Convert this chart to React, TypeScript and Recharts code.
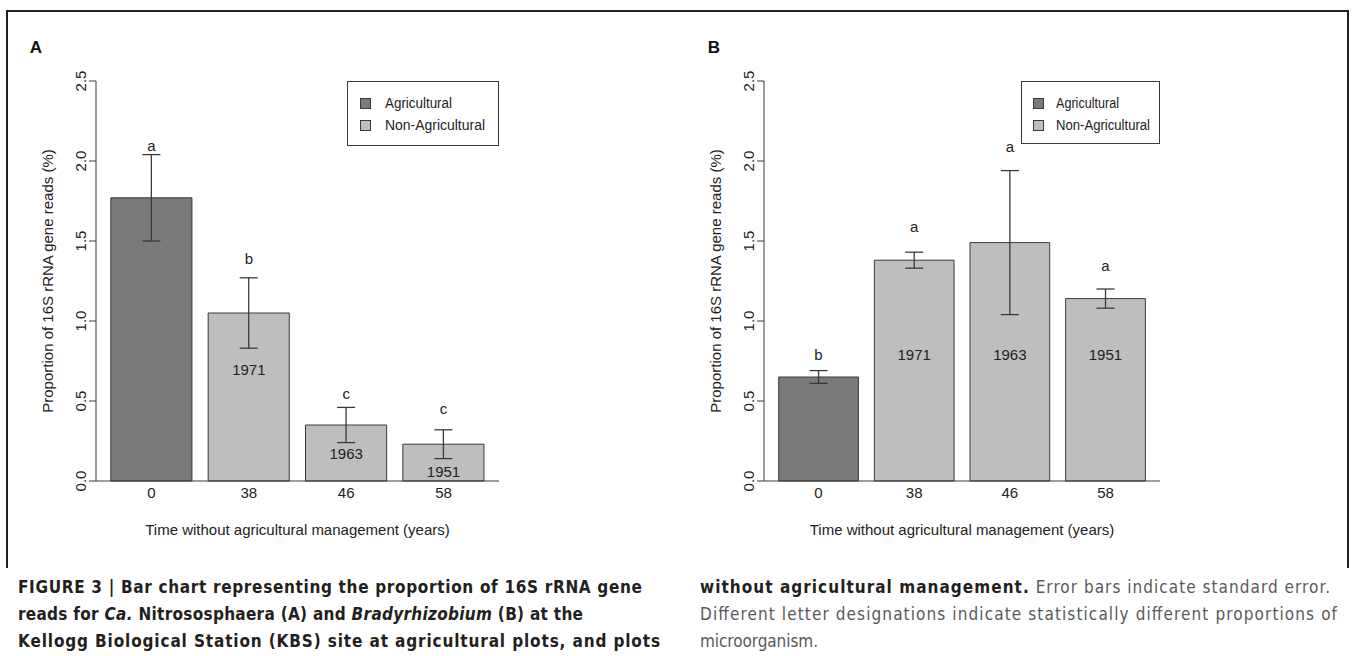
import React from 'react';
import { ComposedChart, Bar, Cell, ErrorBar, Scatter, XAxis, YAxis, Legend } from 'recharts';

// shared categories
const years = ['0', '38', '46', '58'];
const kinds = ['Agricultural', 'Non-Agricultural', 'Non-Agricultural', 'Non-Agricultural'];
const yTicks = [0, 0.5, 1, 1.5, 2, 2.5];
const legendItems = ['Agricultural', 'Non-Agricultural'];

// panel A: Ca. Nitrososphaera
const meanA = [1.77, 1.05, 0.35, 0.23];
const seA = [0.27, 0.22, 0.11, 0.09];
const lettersA = ['a', 'b', 'c', 'c'];
const letterYA = [2.1, 1.39, 0.55, 0.455];
const sinceA = ['', '1971', '1963', '1951'];
const sinceYA = [null, 0.7, 0.175, 0.062];

// panel B: Bradyrhizobium
const meanB = [0.65, 1.38, 1.49, 1.14];
const seB = [0.04, 0.05, 0.45, 0.06];
const lettersB = ['b', 'a', 'a', 'a'];
const letterYB = [0.79, 1.59, 2.09, 1.35];
const sinceB = ['', '1971', '1963', '1951'];
const sinceYB = [null, 0.79, 0.79, 0.79];

const fills: Record<string, string> = { Agricultural: '#7a7a7a', 'Non-Agricultural': '#bebebe' };
const ink = '#222';
const stroke = '#3a3a3a';
const font = "'Liberation Sans', Arial, Helvetica, sans-serif";
const narrow = "'Liberation Sans Narrow', 'DejaVu Sans Condensed', 'Liberation Sans', Arial, sans-serif";

const W = 520;
const H = 560;
const TOP = 81;
const BOTTOM = 481;
const YW = 50;
const XH = 60;

const YTick = (props: any) => {
  const { x, y, payload } = props;
  return (
    <text x={x} y={y} transform={`rotate(-90, ${x}, ${y})`} textAnchor="middle" fill={ink} fontSize={15} fontFamily={font}>
      {Number(payload.value).toFixed(1)}
    </text>
  );
};

const Letter = (props: any) => {
  const { cx, cy, payload } = props;
  if (!payload || !payload.letter || cy == null || isNaN(cy)) return null;
  return (
    <text x={cx} y={cy} textAnchor="middle" dominantBaseline="central" fill={ink} fontSize={15} fontFamily={font}>
      {payload.letter}
    </text>
  );
};

const Since = (props: any) => {
  const { cx, cy, payload } = props;
  if (!payload || !payload.since || cy == null || isNaN(cy)) return null;
  return (
    <text x={cx} y={cy} textAnchor="middle" dominantBaseline="central" fill={ink} fontSize={15} fontFamily={font}>
      {payload.since}
    </text>
  );
};

function LegendBox({ w, h, sq, tx, k }: { w: number; h: number; sq: number; tx: number; k: number }) {
  // text widths of the legend labels in the reference (condensed R output)
  const lens = [67 * k, 100 * k];
  return (
    <svg width={w} height={h} style={{ display: 'block' }}>
      <rect x={0.5} y={0.5} width={w - 1} height={h - 1} fill="#fff" stroke={stroke} />
      {legendItems.map((name, i) => (
        <g key={name}>
          <rect x={sq + 0.5} y={17.5 + i * 22} width={10} height={10} fill={fills[name]} stroke={stroke} />
          <text
            x={tx}
            y={22 + i * 22}
            dominantBaseline="central"
            fill={ink}
            fontSize={14}
            fontFamily={font}
            textLength={lens[i]}
            lengthAdjust="spacingAndGlyphs"
          >
            {name}
          </text>
        </g>
      ))}
    </svg>
  );
}

interface PanelProps {
  left: number;
  plotLeft: number;
  plotRight: number;
  means: number[];
  ses: number[];
  letters: string[];
  letterY: number[];
  since: string[];
  sinceY: (number | null)[];
  legendLeft: number;
  legendW: number;
  legendH: number;
  legendSq: number;
  legendTx: number;
  legendK: number;
}

function Panel(p: PanelProps) {
  const data = years.map((year, i) => ({
    year,
    kind: kinds[i],
    mean: p.means[i],
    se: p.ses[i],
    letter: p.letters[i],
    letterY: p.letterY[i],
    since: p.since[i],
    sinceY: p.sinceY[i],
  }));
  const pl = p.plotLeft - p.left;
  const pr = p.plotRight - p.left;
  const plotW = pr - pl;
  // R barplot geometry: space = 0.2, axis extended 4% each side
  const pitch = plotW / 4.14;
  const pad = (plotW - 4 * pitch) / 2;
  const barSize = pitch / 1.2;

  return (
    <div style={{ position: 'absolute', left: p.left, top: 0, width: W, height: H }}>
      <ComposedChart
        width={W}
        height={H}
        data={data}
        margin={{ top: TOP, right: W - pr, bottom: H - BOTTOM - XH, left: pl - YW }}
      >
        <XAxis
          dataKey="year"
          height={XH}
          interval={0}
          tickLine={false}
          tickSize={0}
          tickMargin={6}
          padding={{ left: pad, right: pad }}
          axisLine={{ stroke }}
          tick={{ fill: ink, fontSize: 15, fontFamily: font }}
          label={{
            content: (lp: any) => {
              const vb = lp.viewBox || {};
              return (
                <text x={vb.x + vb.width / 2} y={vb.y + 54} textAnchor="middle" fill={ink} fontSize={15} fontFamily={font}>
                  Time without agricultural management (years)
                </text>
              );
            },
          }}
        />
        <XAxis xAxisId="top" orientation="top" dataKey="year" height={0} tick={false} tickLine={false} axisLine={{ stroke }} />
        <YAxis
          domain={[0, 2.5]}
          ticks={yTicks}
          width={YW}
          tickSize={7}
          tickMargin={3}
          interval={0}
          axisLine={{ stroke }}
          tickLine={{ stroke }}
          tick={YTick}
          label={{
            content: (lp: any) => {
              const vb = lp.viewBox || {};
              const x = vb.x + 7;
              const y = vb.y + vb.height / 2;
              return (
                <text x={x} y={y} transform={`rotate(-90, ${x}, ${y})`} textAnchor="middle" fill={ink} fontSize={15} fontFamily={font}>
                  Proportion of 16S rRNA gene reads (%)
                </text>
              );
            },
          }}
        />
        <YAxis yAxisId="right" orientation="right" width={0} domain={[0, 2.5]} tick={false} tickLine={false} axisLine={{ stroke }} />
        <Bar dataKey="mean" barSize={barSize} stroke={stroke} strokeWidth={1} isAnimationActive={false}>
          {data.map((d) => (
            <Cell key={d.year} fill={fills[d.kind]} />
          ))}
          <ErrorBar dataKey="se" width={9} stroke={stroke} strokeWidth={1.3} direction="y" />
        </Bar>
        <Scatter dataKey="letterY" shape={Letter} isAnimationActive={false} />
        <Scatter dataKey="sinceY" shape={Since} isAnimationActive={false} />
        <Legend
          layout="horizontal"
          verticalAlign="middle"
          align="center"
          wrapperStyle={{ left: p.legendLeft - p.left, top: TOP - 0.5, width: p.legendW, height: p.legendH }}
          content={() => <LegendBox w={p.legendW} h={p.legendH} sq={p.legendSq} tx={p.legendTx} k={p.legendK} />}
        />
      </ComposedChart>
    </div>
  );
}

export default function App() {
  return (
    <div style={{ position: 'absolute', left: 0, top: 0, width: 1355, height: 656, background: '#fff', fontFamily: font }}>
      <svg width={1355} height={656} style={{ position: 'absolute', left: 0, top: 0 }}>
        <path d="M7 568 V11 H1348 V568" fill="none" stroke="#231f20" strokeWidth={2} />
        <text x={36} y={53} textAnchor="middle" fontWeight="bold" fontSize={17} fill="#111" fontFamily={font}>A</text>
        <text x={714} y={53} textAnchor="middle" fontWeight="bold" fontSize={17} fill="#111" fontFamily={font}>B</text>

        <g fontFamily={narrow} fontSize={17} fill="#231f20">
          <text x={18} y={593} textLength={624} lengthAdjust="spacing" fontWeight="bold">
            FIGURE 3 | Bar chart representing the proportion of 16S rRNA gene
          </text>
          <text x={18} y={620} textLength={565} lengthAdjust="spacing" fontWeight="bold">
            reads for <tspan fontStyle="italic">Ca.</tspan> Nitrososphaera (A) and <tspan fontStyle="italic">Bradyrhizobium</tspan> (B) at the
          </text>
          <text x={18} y={647} textLength={642} lengthAdjust="spacing" fontWeight="bold">
            Kellogg Biological Station (KBS) site at agricultural plots, and plots
          </text>
          <text x={700} y={593} textLength={630} lengthAdjust="spacing">
            <tspan fontWeight="bold">without agricultural management.</tspan>
            <tspan fill="#58595b"> Error bars indicate standard error.</tspan>
          </text>
          <text x={700} y={620} textLength={637} lengthAdjust="spacing" fill="#58595b">
            Different letter designations indicate statistically different proportions of
          </text>
          <text x={700} y={647} textLength={118} lengthAdjust="spacing" fill="#58595b">
            microorganism.
          </text>
        </g>
      </svg>

      <Panel
        left={0}
        plotLeft={96}
        plotRight={499}
        means={meanA}
        ses={seA}
        letters={lettersA}
        letterY={letterYA}
        since={sinceA}
        sinceY={sinceYA}
        legendLeft={347}
        legendW={152}
        legendH={65}
        legendSq={13}
        legendTx={38}
        legendK={1}
      />
      <Panel
        left={670}
        plotLeft={764}
        plotRight={1160}
        means={meanB}
        ses={seB}
        letters={lettersB}
        letterY={letterYB}
        since={sinceB}
        sinceY={sinceYB}
        legendLeft={1021}
        legendW={139}
        legendH={63}
        legendSq={12}
        legendTx={35}
        legendK={0.94}
      />
    </div>
  );
}
